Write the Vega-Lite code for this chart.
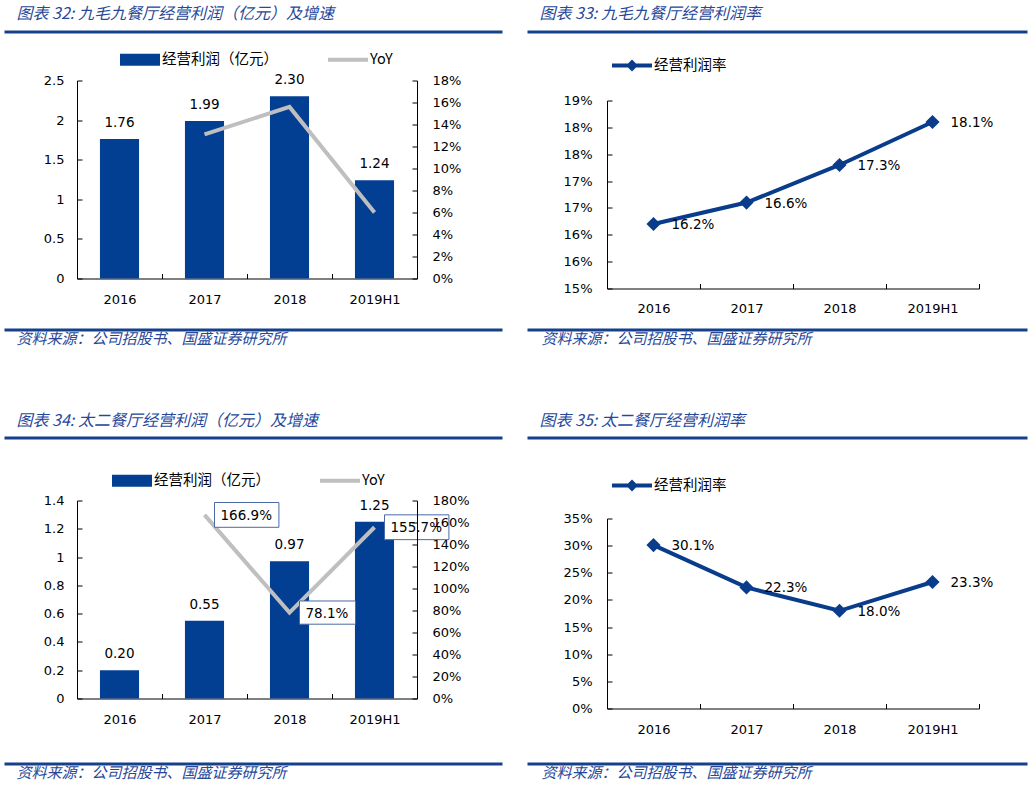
{
  "$schema": "https://vega.github.io/schema/vega-lite/v6.json",
  "background": "white",
  "padding": {"left": 16, "top": 5.5, "right": 0, "bottom": 0},
  "config": {
    "view": {"stroke": null},
    "font": "DejaVu Sans",
    "axis": {"domainColor": "black", "tickColor": "black", "labelColor": "black", "labelFont": "DejaVu Sans", "labelFontSize": 13, "grid": false, "tickSize": -5, "labelOverlap": false},
    "legend": {"labelFont": "Noto Sans CJK SC", "labelFontSize": 14.5, "labelColor": "black"}
  },
  "hconcat": [
    {
      "bounds": "flush",
      "spacing": 0,
      "resolve": {"scale": {"color": "independent"}, "legend": {"color": "independent"}},
      "vconcat": [
        {
          "width": 340, "height": 49,
          "data": {"values": [{"d": 0.5}]},
          "mark": {"type": "point", "opacity": 0, "size": 0},
          "encoding": {"x": {"field": "d", "type": "quantitative", "scale": {"domain": [0, 1], "range": [-73, 425], "nice": false, "zero": false},
            "axis": {"orient": "top", "ticks": false, "labels": false, "grid": false, "domainColor": "#17408B", "domainWidth": 3,
              "title": "图表 32: 九毛九餐厅经营利润（亿元）及增速", "titleX": -61, "titleY": -18, "titleAlign": "left", "titleBaseline": "middle",
              "titleFont": "Noto Sans CJK SC", "titleFontSize": 16, "titleFontStyle": "italic", "titleFontWeight": "normal", "titleColor": "#27489A"}}}
        },
        {
          "width": 340, "height": 198,
          "data": {"values": [
            {"year": "2016", "profit": 1.76, "yoy": null},
            {"year": "2017", "profit": 1.99, "yoy": 0.131},
            {"year": "2018", "profit": 2.30, "yoy": 0.156},
            {"year": "2019H1", "profit": 1.24, "yoy": 0.060}
          ]},
          "encoding": {"x": {"field": "year", "type": "nominal", "sort": null, "scale": {"paddingInner": 0, "paddingOuter": 0},
            "axis": {"title": null, "labelAngle": 0, "tickBand": "extent", "labelPadding": 19.5}}},
          "layer": [
            {
              "encoding": {"y": {"field": "profit", "type": "quantitative", "scale": {"domain": [0, 2.5], "nice": false},
                "axis": {"title": null, "values": [0, 0.5, 1, 1.5, 2, 2.5], "format": "~g", "labelPadding": 18}}},
              "layer": [
                {
                  "mark": {"type": "bar", "width": {"band": 0.46}},
                  "encoding": {
                    "color": {"datum": "经营利润（亿元）", "scale": {"domain": ["经营利润（亿元）", "YoY"], "range": ["#023F92", "#BFBFBF"]},
                      "legend": {"title": null, "orient": "none", "legendX": 43, "legendY": -41, "direction": "horizontal", "symbolSize": 1600, "columnPadding": 50, "labelOffset": 2,
                        "encode": {"symbols": {"update": {
                          "shape": {"signal": "datum.value === 'YoY' ? 'M-1,-0.1L1,-0.1L1,0.1L-1,0.1Z' : 'M-1,-0.3L1,-0.3L1,0.3L-1,0.3Z'"},
                          "fill": {"signal": "datum.value === 'YoY' ? '#BFBFBF' : '#023F92'"},
                          "fillOpacity": {"value": 1}, "opacity": {"value": 1}, "strokeWidth": {"value": 0}}}}}}
                  }
                },
                {
                  "mark": {"type": "text", "baseline": "bottom", "dy": -9, "fontSize": 13.5, "color": "black"},
                  "encoding": {"text": {"field": "profit", "type": "quantitative", "format": ".2f"}}
                }
              ]
            },
            {
              "transform": [{"filter": "datum.yoy != null"}],
              "mark": {"type": "line", "strokeWidth": 4},
              "encoding": {
                "y": {"field": "yoy", "type": "quantitative", "scale": {"domain": [0, 0.18], "nice": false},
                  "axis": {"orient": "right", "title": null, "values": [0, 0.02, 0.04, 0.06, 0.08, 0.1, 0.12, 0.14, 0.16, 0.18], "format": ".0%", "labelPadding": 20}},
                "color": {"datum": "YoY"}
              }
            }
          ],
          "resolve": {"scale": {"y": "independent"}}
        },
        {
          "width": 340, "height": 159,
          "data": {"values": [{"d": 0.5}]},
          "mark": {"type": "point", "opacity": 0, "size": 0},
          "encoding": {"x": {"field": "d", "type": "quantitative", "scale": {"domain": [0, 1], "range": [-73, 425], "nice": false, "zero": false},
            "axis": {"orient": "bottom", "offset": -108, "ticks": false, "labels": false, "grid": false, "domainColor": "#17408B", "domainWidth": 3,
              "title": "资料来源：公司招股书、国盛证券研究所", "titleX": -61, "titleY": 9, "titleAlign": "left", "titleBaseline": "middle",
              "titleFont": "Noto Sans CJK SC", "titleFontSize": 15, "titleFontStyle": "italic", "titleFontWeight": "normal", "titleColor": "#27489A"}}}
        },
        {
          "width": 340, "height": 63,
          "data": {"values": [{"d": 0.5}]},
          "mark": {"type": "point", "opacity": 0, "size": 0},
          "encoding": {"x": {"field": "d", "type": "quantitative", "scale": {"domain": [0, 1], "range": [-73, 425], "nice": false, "zero": false},
            "axis": {"orient": "top", "ticks": false, "labels": false, "grid": false, "domainColor": "#17408B", "domainWidth": 3,
              "title": "图表 34: 太二餐厅经营利润（亿元）及增速", "titleX": -61, "titleY": -17, "titleAlign": "left", "titleBaseline": "middle",
              "titleFont": "Noto Sans CJK SC", "titleFontSize": 16, "titleFontStyle": "italic", "titleFontWeight": "normal", "titleColor": "#27489A"}}}
        },
        {
          "width": 340, "height": 198,
          "data": {"values": [
            {"year": "2016", "profit": 0.20, "yoy": null},
            {"year": "2017", "profit": 0.55, "yoy": 1.669},
            {"year": "2018", "profit": 0.97, "yoy": 0.781},
            {"year": "2019H1", "profit": 1.25, "yoy": 1.557}
          ]},
          "encoding": {"x": {"field": "year", "type": "nominal", "sort": null, "scale": {"paddingInner": 0, "paddingOuter": 0},
            "axis": {"title": null, "labelAngle": 0, "tickBand": "extent", "labelPadding": 20}}},
          "layer": [
            {
              "encoding": {"y": {"field": "profit", "type": "quantitative", "scale": {"domain": [0, 1.4], "nice": false},
                "axis": {"title": null, "values": [0, 0.2, 0.4, 0.6, 0.8, 1, 1.2, 1.4], "format": "~g", "labelPadding": 18}}},
              "layer": [
                {
                  "mark": {"type": "bar", "width": {"band": 0.46}},
                  "encoding": {
                    "color": {"datum": "经营利润（亿元）", "scale": {"domain": ["经营利润（亿元）", "YoY"], "range": ["#023F92", "#BFBFBF"]},
                      "legend": {"title": null, "orient": "none", "legendX": 35, "legendY": -40, "direction": "horizontal", "symbolSize": 1600, "columnPadding": 50, "labelOffset": 2,
                        "encode": {"symbols": {"update": {
                          "shape": {"signal": "datum.value === 'YoY' ? 'M-1,-0.1L1,-0.1L1,0.1L-1,0.1Z' : 'M-1,-0.3L1,-0.3L1,0.3L-1,0.3Z'"},
                          "fill": {"signal": "datum.value === 'YoY' ? '#BFBFBF' : '#023F92'"},
                          "fillOpacity": {"value": 1}, "opacity": {"value": 1}, "strokeWidth": {"value": 0}}}}}}
                  }
                },
                {
                  "mark": {"type": "text", "baseline": "bottom", "dy": -9, "fontSize": 13.5, "color": "black"},
                  "encoding": {"text": {"field": "profit", "type": "quantitative", "format": ".2f"}}
                }
              ]
            },
            {
              "transform": [{"filter": "datum.yoy != null"}],
              "encoding": {"y": {"field": "yoy", "type": "quantitative", "scale": {"domain": [0, 1.8], "nice": false},
                "axis": {"orient": "right", "title": null, "zindex": 2, "values": [0, 0.2, 0.4, 0.6, 0.8, 1, 1.2, 1.4, 1.6, 1.8], "format": ".0%", "labelPadding": 20}}},
              "layer": [
                {
                  "mark": {"type": "line", "strokeWidth": 4},
                  "encoding": {"color": {"datum": "YoY"}}
                },
                {
                  "mark": {"type": "point", "filled": true, "fill": "white", "stroke": "#4A6AA6", "strokeWidth": 1, "opacity": 1, "fillOpacity": 1, "size": 6400},
                  "encoding": {
                    "shape": {"condition": {"test": "datum.year === '2018'", "value": "M0.25,-0.29L1.65,-0.29L1.65,0.29L0.25,0.29Z"}, "value": "M0.25,-0.31L1.86,-0.31L1.86,0.31L0.25,0.31Z"}
                  }
                },
                {
                  "mark": {"type": "text", "align": "left", "baseline": "middle", "dx": 16, "dy": 1, "fontSize": 13.5, "color": "black"},
                  "encoding": {"text": {"field": "yoy", "type": "quantitative", "format": ".1%"}}
                }
              ]
            }
          ],
          "resolve": {"scale": {"y": "independent"}}
        },
        {
          "width": 340, "height": 65,
          "data": {"values": [{"d": 0.5}]},
          "mark": {"type": "point", "opacity": 0, "size": 0},
          "encoding": {"x": {"field": "d", "type": "quantitative", "scale": {"domain": [0, 1], "range": [-73, 425], "nice": false, "zero": false},
            "axis": {"orient": "bottom", "ticks": false, "labels": false, "grid": false, "domainColor": "#17408B", "domainWidth": 3,
              "title": "资料来源：公司招股书、国盛证券研究所", "titleX": -61, "titleY": 9, "titleAlign": "left", "titleBaseline": "middle",
              "titleFont": "Noto Sans CJK SC", "titleFontSize": 15, "titleFontStyle": "italic", "titleFontWeight": "normal", "titleColor": "#27489A"}}}
        }
      ]
    },
    {
      "bounds": "flush",
      "spacing": 0,
      "resolve": {"scale": {"color": "independent"}, "legend": {"color": "independent"}},
      "vconcat": [
        {
          "width": 372, "height": 69,
          "data": {"values": [{"d": 0.5}]},
          "mark": {"type": "point", "opacity": 0, "size": 0},
          "encoding": {"x": {"field": "d", "type": "quantitative", "scale": {"domain": [0, 1], "range": [-80, 420], "nice": false, "zero": false},
            "axis": {"orient": "top", "ticks": false, "labels": false, "grid": false, "domainColor": "#17408B", "domainWidth": 3,
              "title": "图表 33: 九毛九餐厅经营利润率", "titleX": -68, "titleY": -18, "titleAlign": "left", "titleBaseline": "middle",
              "titleFont": "Noto Sans CJK SC", "titleFontSize": 16, "titleFontStyle": "italic", "titleFontWeight": "normal", "titleColor": "#27489A"}}}
        },
        {
          "width": 372, "height": 188,
          "data": {"values": [
            {"year": "2016", "rate": 0.162},
            {"year": "2017", "rate": 0.166},
            {"year": "2018", "rate": 0.173},
            {"year": "2019H1", "rate": 0.181}
          ]},
          "encoding": {
            "x": {"field": "year", "type": "nominal", "sort": null, "scale": {"paddingInner": 0, "paddingOuter": 0},
              "axis": {"title": null, "labelAngle": 0, "tickBand": "extent", "labelPadding": 19}},
            "y": {"field": "rate", "type": "quantitative", "scale": {"domain": [0.15, 0.185], "nice": false, "zero": false},
              "axis": {"title": null, "values": [0.15, 0.155, 0.16, 0.165, 0.17, 0.175, 0.18, 0.185], "labelExpr": "format(floor(datum.value*100+0.5001),'d') + '%'", "labelPadding": 20}}
          },
          "layer": [
            {
              "mark": {"type": "line", "strokeWidth": 4},
              "encoding": {"color": {"datum": "经营利润率", "scale": {"domain": ["经营利润率"], "range": ["#0A3C8C"]},
                "legend": {"title": null, "orient": "none", "legendX": 5, "legendY": -55, "direction": "horizontal", "symbolSize": 1600, "labelOffset": 2,
                  "encode": {"symbols": {"update": {
                    "shape": {"value": "M-1,-0.1L-0.2,-0.1L0,-0.3L0.2,-0.1L1,-0.1L1,0.1L0.2,0.1L0,0.3L-0.2,0.1L-1,0.1Z"},
                    "fill": {"value": "#0A3C8C"}, "fillOpacity": {"value": 1}, "opacity": {"value": 1}, "strokeWidth": {"value": 0}}}}}}}
            },
            {
              "mark": {"type": "point", "shape": "diamond", "filled": true, "size": 200, "opacity": 1},
              "encoding": {"color": {"datum": "经营利润率"}}
            },
            {
              "mark": {"type": "text", "align": "left", "baseline": "middle", "dx": 18, "dy": 1, "fontSize": 13.5, "color": "black"},
              "encoding": {"text": {"field": "rate", "type": "quantitative", "format": ".1%"}}
            }
          ]
        },
        {
          "width": 372, "height": 149,
          "data": {"values": [{"d": 0.5}]},
          "mark": {"type": "point", "opacity": 0, "size": 0},
          "encoding": {"x": {"field": "d", "type": "quantitative", "scale": {"domain": [0, 1], "range": [-80, 420], "nice": false, "zero": false},
            "axis": {"orient": "bottom", "offset": -108, "ticks": false, "labels": false, "grid": false, "domainColor": "#17408B", "domainWidth": 3,
              "title": "资料来源：公司招股书、国盛证券研究所", "titleX": -66, "titleY": 9, "titleAlign": "left", "titleBaseline": "middle",
              "titleFont": "Noto Sans CJK SC", "titleFontSize": 15, "titleFontStyle": "italic", "titleFontWeight": "normal", "titleColor": "#27489A"}}}
        },
        {
          "width": 372, "height": 81,
          "data": {"values": [{"d": 0.5}]},
          "mark": {"type": "point", "opacity": 0, "size": 0},
          "encoding": {"x": {"field": "d", "type": "quantitative", "scale": {"domain": [0, 1], "range": [-80, 420], "nice": false, "zero": false},
            "axis": {"orient": "top", "ticks": false, "labels": false, "grid": false, "domainColor": "#17408B", "domainWidth": 3,
              "title": "图表 35: 太二餐厅经营利润率", "titleX": -68, "titleY": -17, "titleAlign": "left", "titleBaseline": "middle",
              "titleFont": "Noto Sans CJK SC", "titleFontSize": 16, "titleFontStyle": "italic", "titleFontWeight": "normal", "titleColor": "#27489A"}}}
        },
        {
          "width": 372, "height": 190,
          "data": {"values": [
            {"year": "2016", "rate": 0.301},
            {"year": "2017", "rate": 0.223},
            {"year": "2018", "rate": 0.180},
            {"year": "2019H1", "rate": 0.233}
          ]},
          "encoding": {
            "x": {"field": "year", "type": "nominal", "sort": null, "scale": {"paddingInner": 0, "paddingOuter": 0},
              "axis": {"title": null, "labelAngle": 0, "tickBand": "extent", "labelPadding": 19.5}},
            "y": {"field": "rate", "type": "quantitative", "scale": {"domain": [0, 0.35], "nice": false},
              "axis": {"title": null, "values": [0, 0.05, 0.1, 0.15, 0.2, 0.25, 0.3, 0.35], "format": ".0%", "labelPadding": 20}}
          },
          "layer": [
            {
              "mark": {"type": "line", "strokeWidth": 4},
              "encoding": {"color": {"datum": "经营利润率", "scale": {"domain": ["经营利润率"], "range": ["#0A3C8C"]},
                "legend": {"title": null, "orient": "none", "legendX": 5, "legendY": -53, "direction": "horizontal", "symbolSize": 1600, "labelOffset": 2,
                  "encode": {"symbols": {"update": {
                    "shape": {"value": "M-1,-0.1L-0.2,-0.1L0,-0.3L0.2,-0.1L1,-0.1L1,0.1L0.2,0.1L0,0.3L-0.2,0.1L-1,0.1Z"},
                    "fill": {"value": "#0A3C8C"}, "fillOpacity": {"value": 1}, "opacity": {"value": 1}, "strokeWidth": {"value": 0}}}}}}}
            },
            {
              "mark": {"type": "point", "shape": "diamond", "filled": true, "size": 200, "opacity": 1},
              "encoding": {"color": {"datum": "经营利润率"}}
            },
            {
              "mark": {"type": "text", "align": "left", "baseline": "middle", "dx": 18, "dy": 1, "fontSize": 13.5, "color": "black"},
              "encoding": {"text": {"field": "rate", "type": "quantitative", "format": ".1%"}}
            }
          ]
        },
        {
          "width": 372, "height": 55,
          "data": {"values": [{"d": 0.5}]},
          "mark": {"type": "point", "opacity": 0, "size": 0},
          "encoding": {"x": {"field": "d", "type": "quantitative", "scale": {"domain": [0, 1], "range": [-80, 420], "nice": false, "zero": false},
            "axis": {"orient": "bottom", "ticks": false, "labels": false, "grid": false, "domainColor": "#17408B", "domainWidth": 3,
              "title": "资料来源：公司招股书、国盛证券研究所", "titleX": -66, "titleY": 9, "titleAlign": "left", "titleBaseline": "middle",
              "titleFont": "Noto Sans CJK SC", "titleFontSize": 15, "titleFontStyle": "italic", "titleFontWeight": "normal", "titleColor": "#27489A"}}}
        }
      ]
    }
  ],
  "spacing": 530,
  "bounds": "flush",
  "resolve": {"scale": {"color": "independent"}, "legend": {"color": "independent"}}
}
